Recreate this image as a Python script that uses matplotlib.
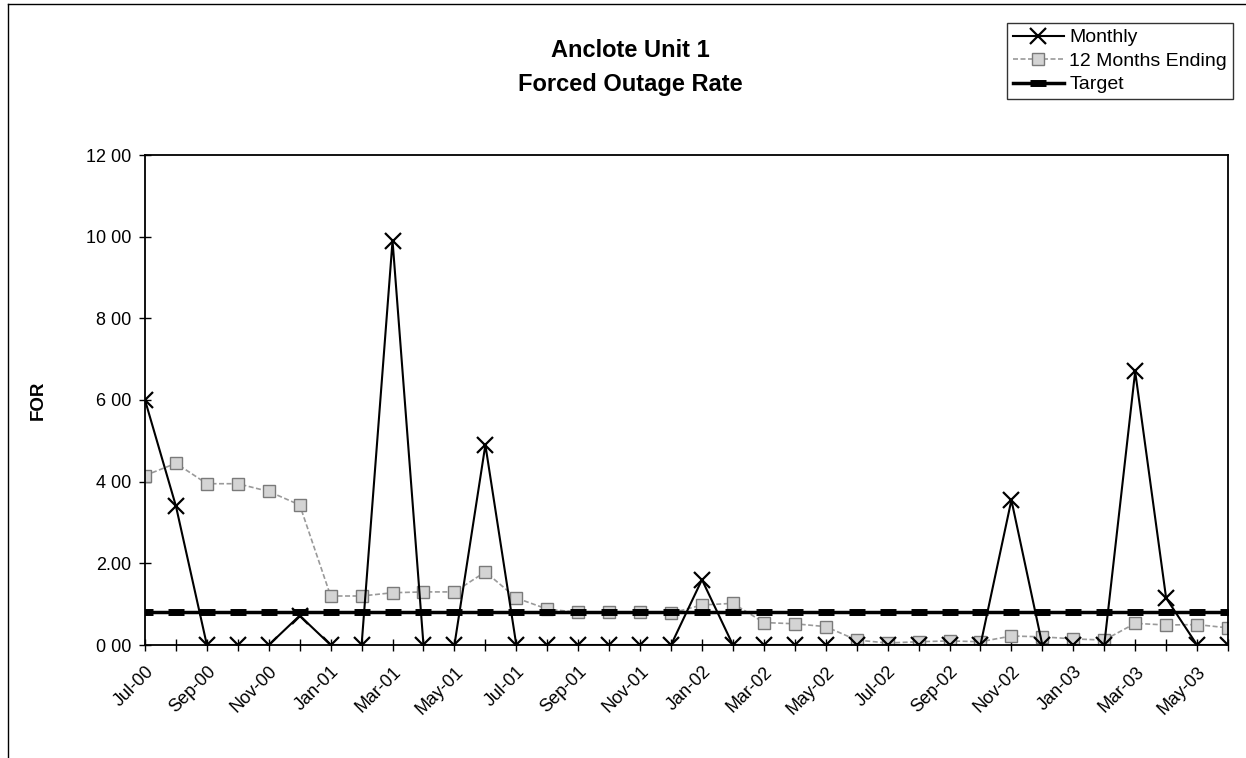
import matplotlib
matplotlib.use("Agg")
import matplotlib.pyplot as plt
from matplotlib.lines import Line2D

plt.rcParams['font.family'] = ['Liberation Sans', 'DejaVu Sans']

# Jul-00 .. Jun-03
months = ["Jul-00", "Aug-00", "Sep-00", "Oct-00", "Nov-00", "Dec-00",
          "Jan-01", "Feb-01", "Mar-01", "Apr-01", "May-01", "Jun-01",
          "Jul-01", "Aug-01", "Sep-01", "Oct-01", "Nov-01", "Dec-01",
          "Jan-02", "Feb-02", "Mar-02", "Apr-02", "May-02", "Jun-02",
          "Jul-02", "Aug-02", "Sep-02", "Oct-02", "Nov-02", "Dec-02",
          "Jan-03", "Feb-03", "Mar-03", "Apr-03", "May-03", "Jun-03"]

monthly = [6.0, 3.4, 0, 0, 0, 0.72, 0, 0, 9.9, 0, 0, 4.9,
           0, 0, 0, 0, 0, 0, 1.6, 0, 0, 0, 0, 0,
           0, 0, 0, 0, 3.55, 0, 0, 0, 6.7, 1.15, 0, 0]

twelve_month = [4.15, 4.45, 3.95, 3.95, 3.76, 3.43, 1.2, 1.2, 1.28, 1.3, 1.3, 1.79,
                1.15, 0.88, 0.8, 0.8, 0.8, 0.78, 0.98, 1.02, 0.55, 0.52, 0.45, 0.12,
                0.05, 0.08, 0.1, 0.08, 0.22, 0.2, 0.15, 0.12, 0.53, 0.49, 0.5, 0.42]

target = [0.8] * len(months)

ytick_vals = [0, 2, 4, 6, 8, 10, 12]
ytick_labels = ["0 00", "2.00", "4 00", "6 00", "8 00", "10 00", "12 00"]

W, H = 1246, 758
fig = plt.figure(figsize=(W / 100, H / 100), dpi=100)
ax = fig.add_axes([145 / W, 1 - 645 / H, (1228 - 145) / W, (645 - 155) / H])

x = list(range(len(months)))

ax.plot(x, monthly, color='black', lw=1.5, marker='x', ms=11, mew=1.6,
        label='Monthly', zorder=3)
ax.plot(x, twelve_month, color='#9a9a9a', lw=1.2, ls=(0, (3, 1.5)), marker='s', ms=8,
        mfc='#d4d4d4', mec='#7a7a7a', mew=1.0, label='12 Months Ending', zorder=2)
ax.plot(x, target, color='black', lw=2.5, marker='_', ms=12, mew=5,
        label='Target', zorder=4)

ax.set_xlim(0, len(months) - 1)
ax.set_ylim(0, 12)
ax.set_yticks(ytick_vals)
ax.set_yticklabels(ytick_labels, fontsize=13)
ax.set_xticks(x)
ax.set_xticklabels([m if i % 2 == 0 else "" for i, m in enumerate(months)],
                   rotation=45, ha='right', rotation_mode='anchor', fontsize=13)
ax.tick_params(axis='both', direction='inout', length=8, width=1, pad=6)
ax.tick_params(axis='x', pad=9)
for s in ax.spines.values():
    s.set_linewidth(1.3)
    s.set_color('black')

ax.set_ylabel("FOR", fontsize=13.5, fontweight='bold', labelpad=28)

fig.text(630 / W, 1 - 57 / H, "Anclote Unit 1", ha='center', va='baseline',
         fontsize=17, fontweight='bold')
fig.text(630 / W, 1 - 91 / H, "Forced Outage Rate", ha='center', va='baseline',
         fontsize=17, fontweight='bold')

leg = fig.legend(loc='upper right', bbox_to_anchor=(1233 / W, 1 - 23 / H),
                 fontsize=14, frameon=True, fancybox=False, handlelength=2.6,
                 borderpad=0.3, labelspacing=0.3, handletextpad=0.3,
                 borderaxespad=0)
leg.get_frame().set_edgecolor('black')
leg.get_frame().set_linewidth(1.0)

# outer chart border (left and top visible in the scan)
fig.add_artist(Line2D([8 / W, 8 / W], [0, 1 - 4 / H], color='black', lw=1.0))
fig.add_artist(Line2D([8 / W, 1], [1 - 4 / H, 1 - 4 / H], color='black', lw=1.0))

fig.savefig("out.png", dpi=100)
